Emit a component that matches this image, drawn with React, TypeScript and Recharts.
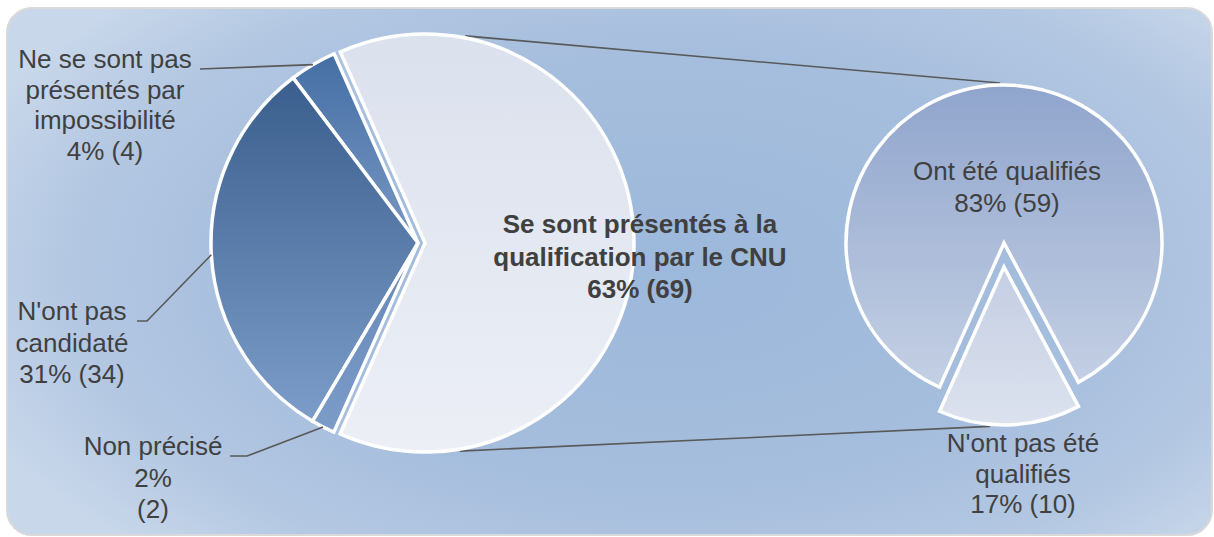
import { PieChart, Pie, Cell, Customized } from 'recharts';

// main pie: order follows the chart, starting just left of the top and going counter-clockwise
const MAIN_IDS = ['impossible', 'noCandidate', 'unknown', 'presented'];
const MAIN_VALUES = [4, 34, 2, 69];
const MAIN_LABEL_LINES = [
  ['Ne se sont pas', 'présentés par', 'impossibilité', '4% (4)'],
  ["N'ont pas", 'candidaté', '31% (34)'],
  ['Non précisé', '2%', '(2)'],
  ['Se sont présentés à la', 'qualification par le CNU', '63% (69)'],
];

// secondary pie (breakdown of "Se sont présentés")
const SUB_IDS = ['qualified', 'notQualified'];
const SUB_VALUES = [59, 10];
const SUB_LABEL_LINES = [
  ['Ont été qualifiés', '83% (59)'],
  ["N'ont pas été", 'qualifiés', '17% (10)'],
];

const mainData = MAIN_IDS.map((id, i) => ({ id, name: MAIN_LABEL_LINES[i][0], value: MAIN_VALUES[i] }));
const subData = SUB_IDS.map((id, i) => ({ id, name: SUB_LABEL_LINES[i][0], value: SUB_VALUES[i] }));

const FONT = '"Liberation Sans", Arial, sans-serif';
const TEXT = '#404040';
const LINE = '#595959';
const EDGE = 3.5;

// geometry
const MAIN = { cx: 418, cy: 243, r: 207, start: 113.9 };
const BIG = { cx: 425, cy: 243, r: 209 };
const SUB = { cx: 1004, cy: 243, r: 158, start: -61.9, explode: 24 };

const MAIN_FILLS = ['url(#g-imp)', 'url(#g-nocand)', 'url(#g-unk)', 'url(#g-big)'];
const SUB_FILLS = ['url(#g-qual)', 'url(#g-notqual)'];

// where each label sits (text centre x, first baseline y) and its leader line
const MAIN_LABEL_POS: { x: number; y: number; step: number; bold?: boolean; leader?: number[][] }[] = [
  { x: 105, y: 68, step: 30.7, leader: [[200, 69]] },
  { x: 72, y: 320, step: 31.5, leader: [[147, 321], [137, 321]] },
  { x: 153, y: 455, step: 31.5, leader: [[247, 456], [230, 456]] },
  { x: 640, y: 233, step: 32.5, bold: true },
];
const SUB_LABEL_POS = [
  { x: 1007, y: 180, step: 32 },
  { x: 1023, y: 452, step: 30.5 },
];

const RAD = Math.PI / 180;
const polar = (cx: number, cy: number, r: number, a: number) => [cx + r * Math.cos(a * RAD), cy - r * Math.sin(a * RAD)];

function TextBlock({ x, y, step, lines, bold }: { x: number; y: number; step: number; lines: string[]; bold?: boolean }) {
  return (
    <text x={x} y={y} textAnchor="middle" fill={TEXT} fontFamily={FONT} fontSize={26} fontWeight={bold ? 'bold' : 'normal'}>
      {lines.map((l, i) => (
        <tspan key={i} x={x} y={y + i * step}>
          {l}
        </tspan>
      ))}
    </text>
  );
}

const mainLabel = (visible: string[]) => (props: any) => {
  const id = props.payload?.id ?? props.id;
  const i = MAIN_IDS.indexOf(id);
  if (!visible.includes(id) || i < 0) return <g />;
  const pos = MAIN_LABEL_POS[i];
  let leader = null;
  if (pos.leader) {
    const [sx, sy] = polar(props.cx, props.cy, props.outerRadius, props.midAngle);
    const pts = [[sx, sy], ...pos.leader].map((p) => p.join(',')).join(' ');
    leader = <polyline points={pts} fill="none" stroke={LINE} strokeWidth={1.6} />;
  }
  return (
    <g>
      {leader}
      <TextBlock x={pos.x} y={pos.y} step={pos.step} lines={MAIN_LABEL_LINES[i]} bold={pos.bold} />
    </g>
  );
};

const subLabel = (visible: string[]) => (props: any) => {
  const id = props.payload?.id ?? props.id;
  const i = SUB_IDS.indexOf(id);
  if (!visible.includes(id) || i < 0) return <g />;
  const pos = SUB_LABEL_POS[i];
  return <TextBlock x={pos.x} y={pos.y} step={pos.step} lines={SUB_LABEL_LINES[i]} />;
};

function Connectors() {
  const [x1, y1] = polar(BIG.cx, BIG.cy, BIG.r + 2, 79);
  const [x2, y2] = polar(SUB.cx, SUB.cy, SUB.r + 2, 91.4);
  const [x3, y3] = polar(BIG.cx, BIG.cy, BIG.r + 2, -80.5);
  const [x4, y4] = polar(SUB.cx, SUB.cy + SUB.explode, SUB.r + 2, -95);
  return (
    <g>
      <line x1={x1} y1={y1} x2={x2} y2={y2} stroke={LINE} strokeWidth={1.6} />
      <line x1={x3} y1={y3} x2={x4} y2={y4} stroke={LINE} strokeWidth={1.6} />
    </g>
  );
}

function grad(id: string, top: string, bottom: string) {
  return (
    <linearGradient id={id} x1="0" y1="0" x2="0" y2="1">
      <stop offset="0%" stopColor={top} />
      <stop offset="100%" stopColor={bottom} />
    </linearGradient>
  );
}

export default function App() {
  return (
    <div style={{ position: 'absolute', left: 0, top: 0, width: 1214, height: 537, background: '#fff' }}>
      <div
        style={{
          position: 'absolute',
          left: 6,
          top: 7,
          width: 1207,
          height: 529,
          boxSizing: 'border-box',
          border: '2px solid #d9d9d9',
          borderRadius: 26,
          background: 'radial-gradient(ellipse 62% 75% at 55% 50%, #9cb8db 0%, #a6bedd 55%, #b3c7e2 80%, #c8d7ea 100%)',
        }}
      />
      <div style={{ position: 'absolute', left: 0, top: 0 }}>
        <PieChart width={1214} height={537} margin={{ top: 0, right: 0, bottom: 0, left: 0 }}>
          <defs>
            {grad('g-big', '#dbe1ed', '#eceff6')}
            {grad('g-imp', '#456fa5', '#7897c3')}
            {grad('g-nocand', '#3a5e8d', '#7c9dc9')}
            {grad('g-unk', '#6487b7', '#7c9cc8')}
            {grad('g-qual', '#90a5cd', '#c4d0e4')}
            {grad('g-notqual', '#c4cee3', '#dce2ee')}
          </defs>
          <Pie
            data={mainData}
            dataKey="value"
            cx={MAIN.cx}
            cy={MAIN.cy}
            outerRadius={MAIN.r}
            startAngle={MAIN.start}
            endAngle={MAIN.start + 360}
            stroke="#ffffff"
            strokeWidth={EDGE}
            isAnimationActive={false}
            labelLine={false}
            label={mainLabel(['impossible', 'noCandidate', 'unknown'])}
          >
            {mainData.map((d, i) => (
              <Cell key={d.id} fill={d.id === 'presented' ? 'none' : MAIN_FILLS[i]} stroke={d.id === 'presented' ? 'none' : '#ffffff'} />
            ))}
          </Pie>
          <Pie
            data={mainData}
            dataKey="value"
            cx={BIG.cx}
            cy={BIG.cy}
            outerRadius={BIG.r}
            startAngle={MAIN.start}
            endAngle={MAIN.start + 360}
            stroke="#ffffff"
            strokeWidth={EDGE}
            isAnimationActive={false}
            labelLine={false}
            label={mainLabel(['presented'])}
          >
            {mainData.map((d, i) => (
              <Cell key={d.id} fill={d.id === 'presented' ? MAIN_FILLS[i] : 'none'} stroke={d.id === 'presented' ? '#ffffff' : 'none'} />
            ))}
          </Pie>
          <Pie
            data={subData}
            dataKey="value"
            cx={SUB.cx}
            cy={SUB.cy}
            outerRadius={SUB.r}
            startAngle={SUB.start}
            endAngle={SUB.start + 360}
            stroke="#ffffff"
            strokeWidth={EDGE}
            isAnimationActive={false}
            labelLine={false}
            label={subLabel(['qualified'])}
          >
            {subData.map((d, i) => (
              <Cell key={d.id} fill={d.id === 'qualified' ? SUB_FILLS[i] : 'none'} stroke={d.id === 'qualified' ? '#ffffff' : 'none'} />
            ))}
          </Pie>
          <Pie
            data={subData}
            dataKey="value"
            cx={SUB.cx}
            cy={SUB.cy + SUB.explode}
            outerRadius={SUB.r}
            startAngle={SUB.start}
            endAngle={SUB.start + 360}
            stroke="#ffffff"
            strokeWidth={EDGE}
            isAnimationActive={false}
            labelLine={false}
            label={subLabel(['notQualified'])}
          >
            {subData.map((d, i) => (
              <Cell key={d.id} fill={d.id === 'notQualified' ? SUB_FILLS[i] : 'none'} stroke={d.id === 'notQualified' ? '#ffffff' : 'none'} />
            ))}
          </Pie>
          <Customized component={Connectors} />
        </PieChart>
      </div>
    </div>
  );
}
